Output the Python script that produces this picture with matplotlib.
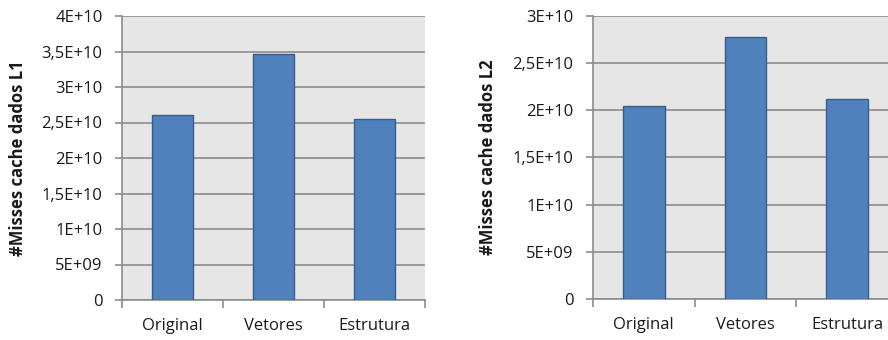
import matplotlib
matplotlib.use("Agg")
import matplotlib.pyplot as plt
from matplotlib.ticker import FixedLocator

categories = ["Original", "Vetores", "Estrutura"]
misses_l1 = [2.605e10, 3.46e10, 2.545e10]
misses_l2 = [2.045e10, 2.77e10, 2.115e10]

l1_ticks = [0, 5e9, 1e10, 1.5e10, 2e10, 2.5e10, 3e10, 3.5e10, 4e10]
l1_labels = ["0", "5E+09", "1E+10", "1,5E+10", "2E+10", "2,5E+10", "3E+10", "3,5E+10", "4E+10"]
l2_ticks = [0, 5e9, 1e10, 1.5e10, 2e10, 2.5e10, 3e10]
l2_labels = ["0", "5E+09", "1E+10", "1,5E+10", "2E+10", "2,5E+10", "3E+10"]

plt.rcParams["font.family"] = ["Open Sans", "DejaVu Sans"]

BAR = "#4F81BD"
EDGE = "#385D8A"
BG = "#E6E6E6"
GRID = "#8C8C8C"
TEXT = "#1A1A1A"

fig = plt.figure(figsize=(8.88, 3.40), dpi=100)


def draw(ax, values, ticks, labels, ylabel):
    x = list(range(len(categories)))
    ax.set_facecolor(BG)
    ax.bar(x, values, width=0.41, color=BAR, edgecolor=EDGE, linewidth=1.0, zorder=3)
    ax.set_xlim(-0.5, len(categories) - 0.5)
    ax.set_ylim(ticks[0], ticks[-1])
    ax.set_yticks(ticks)
    ax.set_yticklabels(labels)
    ax.set_xticks(x)
    ax.set_xticklabels(categories)
    ax.xaxis.set_minor_locator(FixedLocator([i - 0.5 for i in range(len(categories) + 1)]))
    ax.tick_params(axis="x", which="major", length=0, pad=13, labelsize=12, colors=TEXT)
    ax.tick_params(axis="x", which="minor", length=6, width=1.2, color=GRID, direction="out")
    ax.tick_params(axis="y", length=5, width=1.2, color=GRID, pad=9, labelsize=12, colors=TEXT)
    ax.grid(axis="y", color=GRID, linewidth=1.2, zorder=1)
    for side in ("top", "right"):
        ax.spines[side].set_visible(False)
    for side in ("left", "bottom"):
        ax.spines[side].set_color(GRID)
        ax.spines[side].set_linewidth(1.2)
    ax.set_ylabel(ylabel, fontsize=12, fontweight="bold", color=TEXT)


ax1 = fig.add_axes([122 / 888, 40 / 340, 303 / 888, 284 / 340])
draw(ax1, misses_l1, l1_ticks, l1_labels, "#Misses cache dados L1")
ax1.yaxis.set_label_coords(-0.313, 0.5)

ax2 = fig.add_axes([593 / 888, 40.7 / 340, 305 / 888, 283.6 / 340])
draw(ax2, misses_l2, l2_ticks, l2_labels, "#Misses cache dados L2")
ax2.yaxis.set_label_coords(-0.315, 0.5)

fig.savefig("out.png", dpi=100)
